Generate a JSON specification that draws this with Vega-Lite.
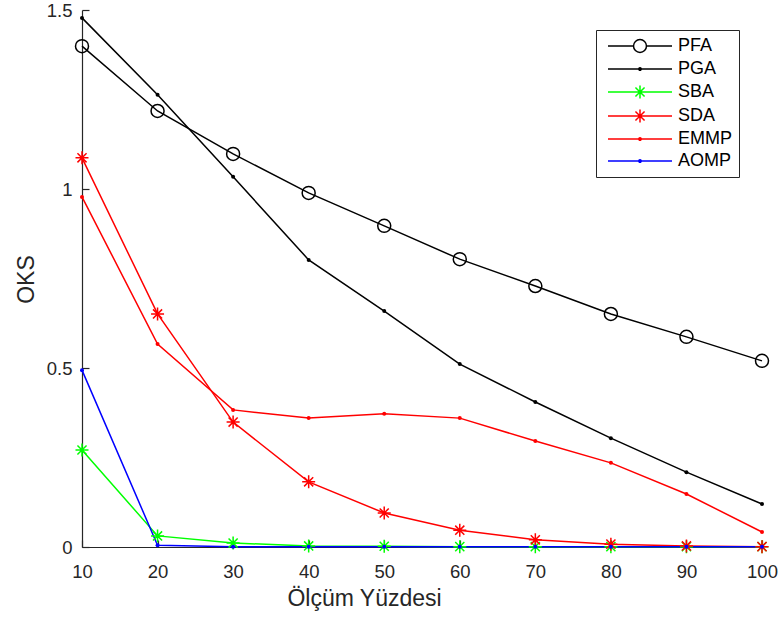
{
  "$schema": "https://vega.github.io/schema/vega-lite/v6.json",
  "width": 680,
  "height": 537,
  "autosize": {"type": "none"},
  "padding": {"left": 82, "top": 10, "right": 19, "bottom": 73},
  "background": "white",
  "config": {
    "view": {"stroke": null},
    "font": "Liberation Sans",
    "axis": {
      "grid": false,
      "domainColor": "#262626",
      "domainWidth": 1.2,
      "tickColor": "#262626",
      "tickWidth": 1.2,
      "tickSize": -7,
      "labelColor": "#262626",
      "labelFont": "Liberation Sans",
      "labelFontSize": 18.5,
      "labelFlush": false,
      "labelOverlap": false,
      "titleColor": "#262626",
      "titleFont": "Liberation Sans",
      "titleFontSize": 23,
      "titleFontWeight": "normal"
    }
  },
  "data": {
    "values": [
      {"x": 10, "series": "PFA", "y": 1.399},
      {"x": 20, "series": "PFA", "y": 1.218},
      {"x": 30, "series": "PFA", "y": 1.098},
      {"x": 40, "series": "PFA", "y": 0.989},
      {"x": 50, "series": "PFA", "y": 0.897},
      {"x": 60, "series": "PFA", "y": 0.804},
      {"x": 70, "series": "PFA", "y": 0.729},
      {"x": 80, "series": "PFA", "y": 0.651},
      {"x": 90, "series": "PFA", "y": 0.587},
      {"x": 100, "series": "PFA", "y": 0.52},
      {"x": 10, "series": "PGA", "y": 1.478},
      {"x": 20, "series": "PGA", "y": 1.263},
      {"x": 30, "series": "PGA", "y": 1.034},
      {"x": 40, "series": "PGA", "y": 0.802},
      {"x": 50, "series": "PGA", "y": 0.659},
      {"x": 60, "series": "PGA", "y": 0.511},
      {"x": 70, "series": "PGA", "y": 0.405},
      {"x": 80, "series": "PGA", "y": 0.304},
      {"x": 90, "series": "PGA", "y": 0.209},
      {"x": 100, "series": "PGA", "y": 0.12},
      {"x": 10, "series": "SBA", "y": 0.271},
      {"x": 20, "series": "SBA", "y": 0.031},
      {"x": 30, "series": "SBA", "y": 0.011},
      {"x": 40, "series": "SBA", "y": 0.003},
      {"x": 50, "series": "SBA", "y": 0.002},
      {"x": 60, "series": "SBA", "y": 0.001},
      {"x": 70, "series": "SBA", "y": 0.001},
      {"x": 80, "series": "SBA", "y": 0.001},
      {"x": 90, "series": "SBA", "y": 0.001},
      {"x": 100, "series": "SBA", "y": 0.001},
      {"x": 10, "series": "SDA", "y": 1.087},
      {"x": 20, "series": "SDA", "y": 0.651},
      {"x": 30, "series": "SDA", "y": 0.349},
      {"x": 40, "series": "SDA", "y": 0.182},
      {"x": 50, "series": "SDA", "y": 0.095},
      {"x": 60, "series": "SDA", "y": 0.047},
      {"x": 70, "series": "SDA", "y": 0.02},
      {"x": 80, "series": "SDA", "y": 0.008},
      {"x": 90, "series": "SDA", "y": 0.003},
      {"x": 100, "series": "SDA", "y": 0.001},
      {"x": 10, "series": "EMMP", "y": 0.978},
      {"x": 20, "series": "EMMP", "y": 0.567},
      {"x": 30, "series": "EMMP", "y": 0.383},
      {"x": 40, "series": "EMMP", "y": 0.36},
      {"x": 50, "series": "EMMP", "y": 0.372},
      {"x": 60, "series": "EMMP", "y": 0.36},
      {"x": 70, "series": "EMMP", "y": 0.296},
      {"x": 80, "series": "EMMP", "y": 0.235},
      {"x": 90, "series": "EMMP", "y": 0.148},
      {"x": 100, "series": "EMMP", "y": 0.042},
      {"x": 10, "series": "AOMP", "y": 0.494},
      {"x": 20, "series": "AOMP", "y": 0.005},
      {"x": 30, "series": "AOMP", "y": 0.001},
      {"x": 40, "series": "AOMP", "y": 0.001},
      {"x": 50, "series": "AOMP", "y": 0.001},
      {"x": 60, "series": "AOMP", "y": 0.001},
      {"x": 70, "series": "AOMP", "y": 0.001},
      {"x": 80, "series": "AOMP", "y": 0.001},
      {"x": 90, "series": "AOMP", "y": 0.001},
      {"x": 100, "series": "AOMP", "y": 0.001}
    ]
  },
  "encoding": {
    "x": {
      "field": "x",
      "type": "quantitative",
      "scale": {"domain": [10, 100], "nice": false, "zero": false},
      "axis": {
        "values": [10, 20, 30, 40, 50, 60, 70, 80, 90, 100],
        "title": "Ölçüm Yüzdesi",
        "labelBaseline": "alphabetic",
        "labelPadding": 37,
        "titleX": 282,
        "titleY": 58,
        "titleBaseline": "alphabetic",
        "titleAnchor": "start",
        "titleAlign": "center"
      }
    },
    "y": {
      "field": "y",
      "type": "quantitative",
      "scale": {"domain": [0, 1.5], "nice": false},
      "axis": {
        "values": [0, 0.5, 1, 1.5],
        "format": ".2~f",
        "title": "OKS",
        "labelPadding": 17,
        "titleX": -49,
        "titleY": 269,
        "titleBaseline": "alphabetic",
        "titleAlign": "center",
        "titleAngle": 270
      }
    }
  },
  "layer": [
    {
      "mark": {"type": "line", "strokeWidth": 1.5},
      "encoding": {
        "color": {
          "field": "series",
          "type": "nominal",
          "scale": {
            "domain": ["PFA", "PGA", "SBA", "SDA", "EMMP", "AOMP"],
            "range": ["#000000", "#000000", "#00ff00", "#ff0000", "#ff0000", "#0000ff"]
          },
          "legend": {
            "title": null,
            "orient": "none",
            "legendX": 514,
            "legendY": 20,
            "padding": 7,
            "strokeColor": "#262626",
            "fillColor": "white",
            "labelFont": "Liberation Sans",
            "labelFontSize": 18,
            "labelColor": "#000000",
            "rowPadding": 4,
            "symbolOffset": 28,
            "labelOffset": 29,
            "symbolSize": 256,
            "symbolStrokeWidth": 1.5,
            "symbolFillColor": "transparent",
            "encode": {
              "symbols": {
                "update": {
                  "size": {"value": 256},
                  "strokeWidth": {"value": 1.5},
                  "stroke": {"scale": "color", "field": "value"},
                  "fill": {"signal": "(datum.value === 'PFA' || datum.value === 'SBA' || datum.value === 'SDA') ? 'transparent' : scale('color', datum.value)"},
                  "shape": {"signal": "datum.value === 'PFA' ? 'M-4,0H-0.81M0.81,0H4M0.81,0A0.81,0.81 0 1 1 -0.81,0A0.81,0.81 0 1 1 0.81,0' : (datum.value === 'SBA' || datum.value === 'SDA') ? 'M-4,0H4M0,-0.81V0.81M-0.57,-0.57L0.57,0.57M-0.57,0.57L0.57,-0.57' : 'M-4,0H4M0.15,0A0.15,0.15 0 1 1 -0.15,0A0.15,0.15 0 1 1 0.15,0'"}
                }
              }
            }
          }
        }
      }
    },
    {
      "transform": [{"filter": "datum.series === 'PFA'"}],
      "mark": {"type": "point", "shape": "circle", "size": 169, "filled": false, "strokeWidth": 1.5, "opacity": 1, "color": "#000000"}
    },
    {
      "transform": [{"filter": "datum.series === 'PGA'"}],
      "mark": {"type": "point", "shape": "circle", "size": 16, "filled": true, "opacity": 1, "color": "#000000"}
    },
    {
      "transform": [{"filter": "datum.series === 'SBA'"}],
      "mark": {"type": "point", "shape": "M-1,0H1M0,-1V1M-0.7,-0.7L0.7,0.7M-0.7,0.7L0.7,-0.7", "size": 169, "filled": false, "strokeWidth": 1.5, "opacity": 1, "color": "#00ff00"}
    },
    {
      "transform": [{"filter": "datum.series === 'SDA'"}],
      "mark": {"type": "point", "shape": "M-1,0H1M0,-1V1M-0.7,-0.7L0.7,0.7M-0.7,0.7L0.7,-0.7", "size": 169, "filled": false, "strokeWidth": 1.5, "opacity": 1, "color": "#ff0000"}
    },
    {
      "transform": [{"filter": "datum.series === 'EMMP'"}],
      "mark": {"type": "point", "shape": "circle", "size": 16, "filled": true, "opacity": 1, "color": "#ff0000"}
    },
    {
      "transform": [{"filter": "datum.series === 'AOMP'"}],
      "mark": {"type": "point", "shape": "circle", "size": 16, "filled": true, "opacity": 1, "color": "#0000ff"}
    }
  ]
}
